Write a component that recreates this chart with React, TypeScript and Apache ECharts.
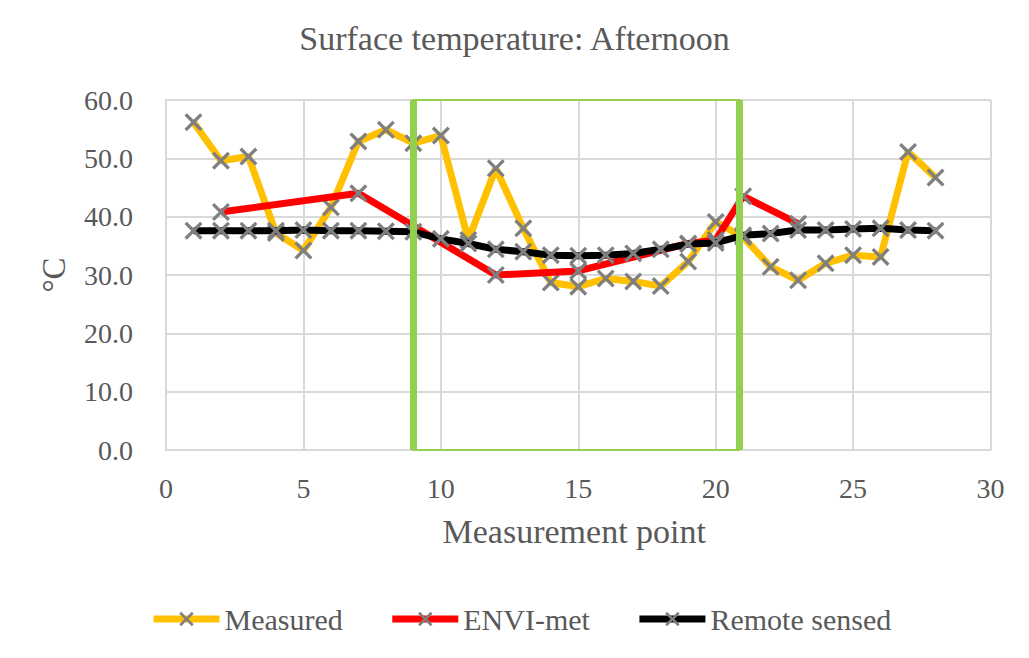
import React, { useEffect, useRef } from "react";
import * as echarts from "echarts";

const pointIds = [1, 2, 3, 4, 5, 6, 7, 8, 9, 10, 11, 12, 13, 14, 15, 16, 17, 18, 19, 20, 21, 22, 23, 24, 25, 26, 27, 28];
const measured = [56.2, 49.6, 50.3, 37.2, 34.2, 41.6, 52.9, 54.9, 52.6, 53.9, 36.0, 48.3, 38.0, 28.7, 28.0, 29.4, 28.9, 28.1, 32.3, 39.1, 36.5, 31.4, 29.1, 32.0, 33.4, 33.1, 51.1, 46.7];
const envimet: (number | null)[] = [null, 40.8, null, null, null, null, 44.0, null, null, null, null, 30.0, null, null, 30.7, null, null, null, 35.4, 36.0, 43.5, null, 38.8, null, null, null, null, null];
const remote = [37.6, 37.6, 37.6, 37.6, 37.7, 37.6, 37.6, 37.5, 37.4, 36.2, 35.4, 34.4, 34.0, 33.4, 33.3, 33.4, 33.7, 34.4, 35.3, 35.5, 36.8, 37.1, 37.7, 37.7, 37.9, 38.0, 37.7, 37.6];
const highlightRange = [9, 20.85];
const seriesNames = ["Measured", "ENVI-met", "Remote sensed"];

const X_SYMBOL =
  "path://M0,2.6 L2.6,0 L10,7.4 L17.4,0 L20,2.6 L12.6,10 L20,17.4 L17.4,20 L10,12.6 L2.6,20 L0,17.4 L7.4,10 Z";

const FONT = '"Liberation Serif", "Times New Roman", Times, serif';
const TEXT = "#595959";

function pairs(vals: (number | null)[]) {
  return pointIds.map((x, i) => [x, vals[i] === null ? null : vals[i]]);
}

export default function App() {
  const ref = useRef<HTMLDivElement>(null);
  useEffect(() => {
    document.body.style.margin = "0";
    if (!ref.current) return;
    const chart = echarts.init(ref.current, null, { renderer: "svg" });
    const lineSeries = (name: string, data: any, color: string, z: number) => ({
      name,
      type: "line",
      data,
      z,
      connectNulls: true,
      symbol: X_SYMBOL,
      symbolSize: 18,
      itemStyle: { color: "#7f7f7f" },
      lineStyle: { color, width: 7 },
      emphasis: { disabled: true },
    });
    chart.setOption({
      animation: false,
      textStyle: { fontFamily: FONT },
      title: {
        text: "Surface temperature: Afternoon",
        left: "center",
        top: 21,
        padding: 0,
        textStyle: { fontFamily: FONT, fontSize: 34, fontWeight: "normal", color: TEXT },
      },
      legend: {
        data: seriesNames,
        left: 150,
        top: 604,
        padding: 0,
        itemWidth: 66,
        itemHeight: 18,
        itemGap: 46,
        lineStyle: { width: 7 },
        textStyle: { fontFamily: FONT, fontSize: 30, color: TEXT },
      },
      grid: { left: 166, right: 38.5, top: 100, bottom: 208, containLabel: false },
      xAxis: {
        type: "value",
        min: 0,
        max: 30,
        interval: 5,
        name: "Measurement point",
        nameLocation: "middle",
        nameGap: 64,
        nameTextStyle: { fontFamily: FONT, fontSize: 34, color: TEXT, padding: [0, 8, 0, 0] },
        axisLine: { show: true, lineStyle: { color: "#d9d9d9", width: 2 } },
        axisTick: { show: false },
        axisLabel: { fontFamily: FONT, fontSize: 28, color: TEXT, margin: 24 },
        splitLine: { show: true, lineStyle: { color: "#d9d9d9", width: 2 } },
      },
      yAxis: {
        type: "value",
        min: 0,
        max: 60,
        interval: 10,
        name: "°C",
        nameLocation: "middle",
        nameGap: 96,
        nameRotate: 90,
        nameTextStyle: { fontFamily: FONT, fontSize: 33, color: TEXT },
        axisLine: { show: true, lineStyle: { color: "#d9d9d9", width: 2 } },
        axisTick: { show: false },
        axisLabel: {
          fontFamily: FONT,
          fontSize: 28,
          color: TEXT,
          margin: 33,
          formatter: (v: number) => v.toFixed(1),
        },
        splitLine: { show: true, lineStyle: { color: "#d9d9d9", width: 2 } },
      },
      series: [
        lineSeries(seriesNames[0], pairs(measured), "#FFC000", 2),
        lineSeries(seriesNames[1], pairs(envimet), "#FF0000", 3),
        lineSeries(seriesNames[2], pairs(remote), "#000000", 4),
        {
          name: "highlight",
          type: "line",
          data: [],
          z: 10,
          silent: true,
          markArea: {
            silent: true,
            itemStyle: { color: "rgba(0,0,0,0)", borderColor: "#92D050", borderWidth: 2 },
            data: [[{ xAxis: highlightRange[0], yAxis: 0 }, { xAxis: highlightRange[1], yAxis: 60 }]],
          },
          markLine: {
            silent: true,
            symbol: "none",
            label: { show: false },
            lineStyle: { color: "#92D050", width: 7, type: "solid" },
            data: [{ xAxis: highlightRange[0] }, { xAxis: highlightRange[1] }],
          },
        },
      ],
    });
    return () => chart.dispose();
  }, []);
  return <div ref={ref} style={{ width: 1029, height: 658 }} />;
}
